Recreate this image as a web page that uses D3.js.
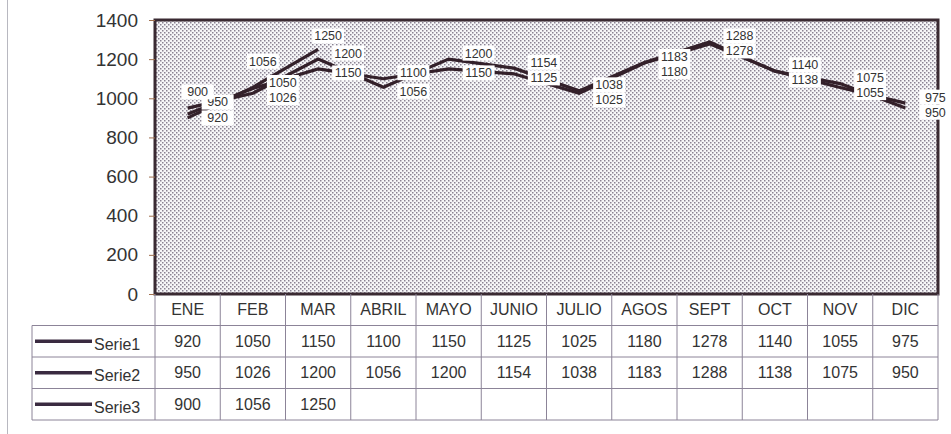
<!DOCTYPE html>
<html>
<head>
  <meta charset="utf-8">
  <title>Series mensuales</title>
  <style>
    body { margin: 0; background: #fff; }
    svg text { font-family: "Liberation Sans", Arial, sans-serif; fill: #333; }
  </style>
</head>
<body>
  <script src="https://d3js.org/d3.v7.min.js"></script>
  <script type="text/javascript">
    // data
    var months = ["ENE", "FEB", "MAR", "ABRIL", "MAYO", "JUNIO", "JULIO", "AGOS", "SEPT", "OCT", "NOV", "DIC"];
    var serie1 = [920, 1050, 1150, 1100, 1150, 1125, 1025, 1180, 1278, 1140, 1055, 975];
    var serie2 = [950, 1026, 1200, 1056, 1200, 1154, 1038, 1183, 1288, 1138, 1075, 950];
    var serie3 = [900, 1056, 1250];
    var seriesNames = ["Serie1", "Serie2", "Serie3"];
    var yTicks = [0, 200, 400, 600, 800, 1000, 1200, 1400];

    var allSeries = [serie1, serie2, serie3];

    var width = 951, height = 434;
    var plot = {left: 155, right: 938, top: 20, bottom: 294};
    var tableLeft = 32, rowH = 31.5;

    var svg = d3.select("body").append("svg")
        .attr("width", width)
        .attr("height", height);

    // dotted fill like the old excel pattern
    var defs = svg.append("defs");
    var pat = defs.append("pattern")
        .attr("id", "dots")
        .attr("width", 4).attr("height", 4)
        .attr("patternUnits", "userSpaceOnUse");
    pat.append("rect").attr("width", 4).attr("height", 4).attr("fill", "#f6f6f8");
    pat.append("rect").attr("x", 0).attr("y", 0).attr("width", 1.5).attr("height", 1.5).attr("fill", "#8a8292");
    pat.append("rect").attr("x", 2).attr("y", 2).attr("width", 1.5).attr("height", 1.5).attr("fill", "#8a8292");

    // page border on the left
    svg.append("line")
        .attr("x1", 7.5).attr("x2", 7.5).attr("y1", 0).attr("y2", height)
        .attr("stroke", "#b8b8c0").attr("stroke-width", 1);

    var x = d3.scaleBand()
        .domain(months)
        .range([plot.left, plot.right]);

    var y = d3.scaleLinear()
        .domain([0, 1400])
        .range([plot.bottom, plot.top]);

    svg.append("rect")
        .attr("x", plot.left).attr("y", plot.top)
        .attr("width", plot.right - plot.left)
        .attr("height", plot.bottom - plot.top)
        .attr("fill", "url(#dots)")
        .attr("stroke", "#3a2a32")
        .attr("stroke-width", 3);

    // y axis
    var yAxis = svg.append("g")
        .attr("transform", "translate(" + plot.left + ",0)")
        .call(d3.axisLeft(y).tickValues(yTicks).tickFormat(d3.format("d")).tickSize(6).tickPadding(11));
    yAxis.select(".domain").remove();
    yAxis.selectAll(".tick line").attr("stroke", "#a07050");
    yAxis.selectAll(".tick text")
        .style("font-size", "19px")
        .attr("fill", "#333");

    // lines
    var cx = function(i) { return x(months[i]) + x.bandwidth() / 2; };
    var line = d3.line()
        .x(function(d, i) { return cx(i); })
        .y(function(d) { return y(d); });

    svg.selectAll(".serie")
        .data(allSeries)
        .enter()
        .append("path")
        .attr("class", "serie")
        .attr("d", line)
        .attr("fill", "none")
        .attr("stroke", "#33202a")
        .attr("stroke-width", 3.2)
        .attr("stroke-linejoin", "miter");

    // data labels
    var labels = [];
    months.forEach(function(m, i) {
      var a = serie1[i], b = serie2[i];
      var hi = a >= b ? a : b, lo = a >= b ? b : a;
      var yHi = y(hi) - 6;
      var yLo = Math.max(y(lo) + 4, yHi + 15);
      labels.push({v: hi, x: cx(i) + 30, y: yHi});
      labels.push({v: lo, x: cx(i) + 30, y: yLo});
    });
    serie3.forEach(function(v, i) {
      labels.push({v: v, x: cx(i) + 10, y: Math.max(y(v) - 26, plot.top + 16)});
    });

    var lab = svg.selectAll(".lab")
        .data(labels)
        .enter()
        .append("g")
        .attr("class", "lab")
        .attr("transform", function(d) { return "translate(" + d.x + "," + d.y + ")"; });
    lab.append("rect")
        .attr("x", -16).attr("y", -7.5)
        .attr("width", 32).attr("height", 15)
        .attr("fill", "#fff");
    lab.append("text")
        .attr("text-anchor", "middle")
        .attr("dy", "0.35em")
        .style("font-size", "12.5px")
        .text(function(d) { return d.v; });

    // data table
    var tTop = plot.bottom;
    var grid = svg.append("g").attr("stroke", "#8c8498").attr("stroke-width", 1);

    // vertical lines for columns
    var edges = months.map(function(m) { return x(m); }).concat([plot.right]);
    edges.forEach(function(e) {
      grid.append("line")
          .attr("x1", e).attr("x2", e)
          .attr("y1", tTop).attr("y2", tTop + rowH * 4);
    });
    grid.append("line")
        .attr("x1", tableLeft).attr("x2", tableLeft)
        .attr("y1", tTop + rowH).attr("y2", tTop + rowH * 4);
    for (var r = 1; r <= 4; r++) {
      grid.append("line")
          .attr("x1", tableLeft).attr("x2", plot.right)
          .attr("y1", tTop + rowH * r).attr("y2", tTop + rowH * r);
    }

    svg.selectAll(".month")
        .data(months)
        .enter()
        .append("text")
        .attr("x", function(d) { return x(d) + x.bandwidth() / 2; })
        .attr("y", tTop + rowH / 2)
        .attr("dy", "0.35em")
        .attr("text-anchor", "middle")
        .style("font-size", "16px")
        .text(function(d) { return d; });

    allSeries.forEach(function(s, k) {
      var rowY = tTop + rowH * (k + 1) + rowH / 2;
      svg.append("line")
          .attr("x1", tableLeft + 3).attr("x2", tableLeft + 60)
          .attr("y1", rowY).attr("y2", rowY)
          .attr("stroke", "#3a2a40").attr("stroke-width", 3.5);
      svg.append("text")
          .attr("x", tableLeft + 62)
          .attr("y", rowY + 3)
          .attr("dy", "0.35em")
          .style("font-size", "16px")
          .text(seriesNames[k]);
      svg.selectAll(".v" + k)
          .data(s)
          .enter()
          .append("text")
          .attr("x", function(d, i) { return cx(i); })
          .attr("y", rowY)
          .attr("dy", "0.35em")
          .attr("text-anchor", "middle")
          .style("font-size", "16px")
          .text(function(d) { return d; });
    });
  </script>
</body>
</html>
